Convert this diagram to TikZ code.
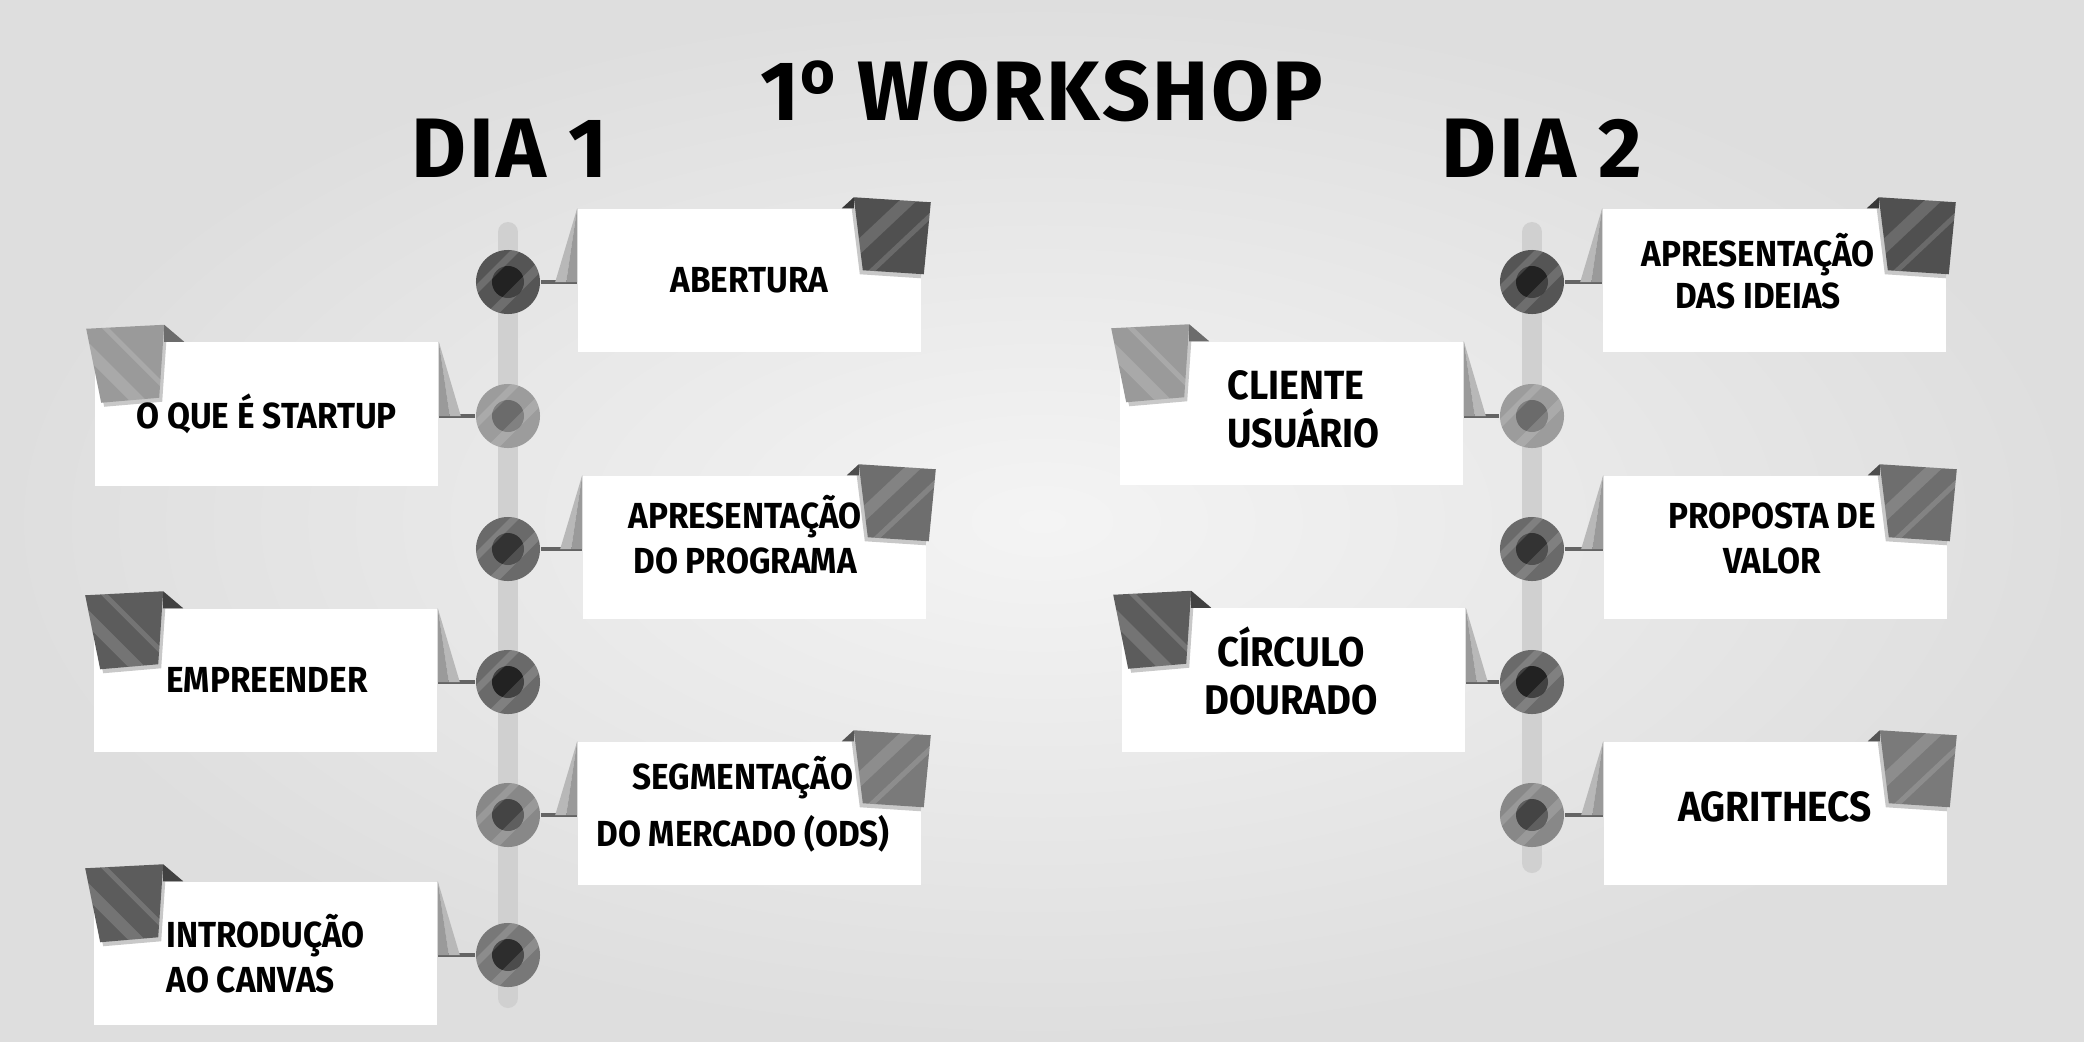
\documentclass[tikz,border=0pt]{standalone}
\usepackage{fontspec}
\setmainfont{Fira Sans}[FakeStretch=0.92]
\newfontfamily\headfont{Fira Sans}[LetterSpace=3]
\usepackage{tikz}
\usetikzlibrary{calc}
\definecolor{bgin}{RGB}{244,244,244}
\definecolor{bgout}{RGB}{222,222,222}
\definecolor{railgray}{RGB}{208,208,208}
\definecolor{wiregray}{RGB}{100,100,100}
\definecolor{foldA}{RGB}{184,184,184}
\definecolor{foldB}{RGB}{154,154,154}
\definecolor{tagshadow}{RGB}{200,200,200}
\definecolor{ringA}{RGB}{85,85,85}
\definecolor{coreA}{RGB}{34,34,34}
\definecolor{ringB}{RGB}{156,156,156}
\definecolor{coreB}{RGB}{107,107,107}
\definecolor{ringC}{RGB}{106,106,106}
\definecolor{coreC}{RGB}{51,51,51}
\definecolor{ringD}{RGB}{136,136,136}
\definecolor{coreD}{RGB}{68,68,68}
\definecolor{ringE}{RGB}{120,120,120}
\definecolor{coreE}{RGB}{45,45,45}
\definecolor{tagA}{RGB}{80,80,80}
\definecolor{tagB}{RGB}{154,154,154}
\definecolor{tagC}{RGB}{110,110,110}
\definecolor{tagD}{RGB}{92,92,92}
\definecolor{tagE}{RGB}{122,122,122}
% raised ordinal o
\newcommand\ordo{\raisebox{7.4pt}{\fontsize{17}{17}\selectfont o}}
% stop on a rail: name, x, y, ring colour, core colour
\newcommand\stopdot[5]{
  \node[dot, fill=#4] (#1) at (#2,#3) {};
  \begin{scope}
    \clip (#1) circle (0.32cm);
    \fill[#5] (#1) circle (0.16cm);
    \draw[stripe, line width=0.07cm] ($(#1)+(-52,28)$) -- ($(#1)+(28,-52)$);
    \draw[stripe, line width=0.09cm] ($(#1)+(-32,48)$) -- ($(#1)+(48,-32)$);
  \end{scope}
}
% folded flap between box and wire
\newcommand\foldR[2]{
  \fill[foldA] (#1.north west) -- ($(#1.west |- #2)+(-22,0)$) -- ($(#1.west |- #2)+(-11,0)$) --cycle;
  \fill[foldB] (#1.north west) -- ($(#1.west |- #2)+(-11,0)$) -- (#1.west |- #2) --cycle;
}
\newcommand\foldL[2]{
  \fill[foldA] (#1.north east) -- ($(#1.east |- #2)+(22,0)$) -- ($(#1.east |- #2)+(11,0)$) --cycle;
  \fill[foldB] (#1.north east) -- ($(#1.east |- #2)+(11,0)$) -- (#1.east |- #2) --cycle;
}
% corner tags
\newcommand\tagR[2]{
  \begin{scope}[shift={(#1.north east)}]
    \fill[tagshadow] (-71,-7) -- (6,-2) -- (-1,70) -- (-62,66) --cycle;
    \fill[#2!70!black] (-80,0) -- (-68,-11) -- (-68,0) --cycle;
    \fill[#2] (-68,-11) -- (9,-6) -- (2,66) -- (-59,62) --cycle;
    \clip (-68,-11) -- (9,-6) -- (2,66) -- (-59,62) --cycle;
    \draw[stripe, line width=0.12cm] (-75,50) -- (10,-30);
    \draw[stripe, line width=0.05cm] (-60,72) -- (25,-8);
  \end{scope}
}
\newcommand\tagL[2]{
  \begin{scope}[shift={(#1.north west)}]
    \fill[tagshadow] (-5,-9) -- (73,-13) -- (68,60) -- (10,65) --cycle;
    \fill[#2!70!black] (70,-17) -- (90,0) -- (70,0) --cycle;
    \fill[#2] (-8,-13) -- (70,-17) -- (65,56) -- (7,61) --cycle;
    \clip (-8,-13) -- (70,-17) -- (65,56) -- (7,61) --cycle;
    \draw[stripe, line width=0.12cm] (-15,0) -- (60,75);
    \draw[stripe, line width=0.05cm] (5,-20) -- (80,55);
  \end{scope}
}

\begin{document}
\begin{tikzpicture}[x=0.01cm, y=-0.01cm,
  card/.style={fill=white, minimum width=3.43cm, minimum height=1.43cm, inner sep=0pt},
  dot/.style={circle, minimum size=0.64cm, inner sep=0pt},
  wire/.style={draw=wiregray, line width=0.04cm},
  rail/.style={draw=railgray, line width=0.2cm, line cap=round},
  stripe/.style={draw=white, opacity=0.15},
  lbl/.style={font=\bfseries\fontsize{10.3}{12.8}\selectfont, align=center, inner sep=0pt},
  biglbl/.style={font=\bfseries\fontsize{11.6}{13.7}\selectfont, align=left, inner sep=0pt},
  head/.style={font=\headfont\bfseries\fontsize{24}{28}\selectfont, inner sep=0pt, anchor=base}]

\shade[inner color=bgin, outer color=bgout] (0,0) rectangle (2084,1042);
\useasboundingbox (0,0) rectangle (2084,1042);

% headings
\node[head] (title) at (1042,120) {1\ordo\ WORKSHOP};
\node[head] (day1) at (510,177) {DIA 1};
\node[head] (day2) at (1542,177) {DIA 2};

% rails
\coordinate (r1a) at (508,232);
\coordinate (r1b) at (508,998);
\coordinate (r2a) at (1532,232);
\coordinate (r2b) at (1532,863);
\draw[rail] (r1a) -- (r1b);
\draw[rail] (r2a) -- (r2b);

% stops
\stopdot{d1}{508}{282}{ringA}{coreA};
\stopdot{d2}{508}{416}{ringB}{coreB};
\stopdot{d3}{508}{549}{ringC}{coreC};
\stopdot{d4}{508}{682}{ringC}{coreA};
\stopdot{d5}{508}{815}{ringD}{coreD};
\stopdot{d6}{508}{955}{ringE}{coreE};
\stopdot{e1}{1532}{282}{ringA}{coreA};
\stopdot{e2}{1532}{416}{ringB}{coreB};
\stopdot{e3}{1532}{549}{ringC}{coreC};
\stopdot{e4}{1532}{682}{ringC}{coreA};
\stopdot{e5}{1532}{815}{ringD}{coreD};

% boxes
\node[card] (L1) at (749.5,280.5) {};
\node[card] (L2) at (266.5,414) {};
\node[card] (L3) at (754.5,547.5) {};
\node[card] (L4) at (265.5,680.5) {};
\node[card] (L5) at (749.5,813.5) {};
\node[card] (L6) at (265.5,953.5) {};
\node[card] (R1) at (1774.5,280.5) {};
\node[card] (R2) at (1291.5,413.5) {};
\node[card] (R3) at (1775.5,547.5) {};
\node[card] (R4) at (1293.5,680) {};
\node[card] (R5) at (1775.5,813.5) {};

% wires and flaps
\foreach \b/\c in {L1/d1,L3/d3,L5/d5,R1/e1,R3/e3,R5/e5} {
  \draw[wire] (\c) -- (\c -| \b.west);
  \foldR{\b}{\c}
}
\foreach \b/\c in {L2/d2,L4/d4,L6/d6,R2/e2,R4/e4} {
  \draw[wire] (\c) -- (\c -| \b.east);
  \foldL{\b}{\c}
}

% tags
\tagR{L1}{tagA};
\tagR{L3}{tagC};
\tagR{L5}{tagE};
\tagR{R1}{tagA};
\tagR{R3}{tagC};
\tagR{R5}{tagE};
\tagL{L2}{tagB};
\tagL{L4}{tagD};
\tagL{L6}{tagD};
\tagL{R2}{tagB};
\tagL{R4}{tagD};

% labels
\node[lbl, anchor=base] (t1) at (749.5,292) {ABERTURA};
\node[lbl, anchor=base] (t2) at (266.5,428) {O QUE É STARTUP};
\node[lbl] (t3) at (745,535) {APRESENTAÇÃO\\DO PROGRAMA};
\node[lbl, anchor=base] (t4) at (267,692) {EMPREENDER};
\node[lbl, font=\bfseries\fontsize{10.3}{16.2}\selectfont] (t5) at (743,804) {SEGMENTAÇÃO\\DO MERCADO (ODS)};
\node[lbl, align=left, anchor=west] (t6) at (166,954) {INTRODUÇÃO\\AO CANVAS};
\node[lbl, font=\bfseries\fontsize{10.3}{12}\selectfont] (t7) at (1758,271) {APRESENTAÇÃO\\DAS IDEIAS};
\node[biglbl, anchor=west] (t8) at (1227,409) {CLIENTE\\USUÁRIO};
\node[lbl] (t9) at (1772,538) {PROPOSTA DE\\VALOR};
\node[biglbl, align=center, font=\bfseries\fontsize{11.8}{13.4}\selectfont] (t10) at (1291,671) {CÍRCULO\\DOURADO};
\node[lbl, font=\bfseries\fontsize{12}{14}\selectfont, anchor=base] (t11) at (1775,821) {AGRITHECS};

\end{tikzpicture}
\end{document}
